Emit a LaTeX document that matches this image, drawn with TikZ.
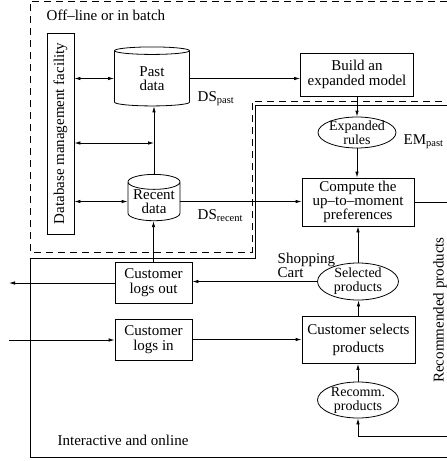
\documentclass[tikz,border=0pt]{standalone}
\usepackage{fontspec}
\setmainfont{Liberation Serif}
\usepackage{graphicx}
\usepackage{tikz}
\usetikzlibrary{shapes.geometric,arrows.meta}
\tikzstyle{block} = [rectangle, draw, align=center, inner sep=0pt]
\tikzstyle{ellip} = [ellipse, draw, align=center, inner sep=-4pt]
\tikzstyle{store} = [cylinder, shape border rotate=90, draw, align=center, inner sep=0pt]
\tikzstyle{arrow} = [draw, -{Latex[length=6pt,width=3.5pt]}]
\tikzstyle{twoway} = [draw, {Latex[length=6pt,width=3.5pt]}-{Latex[length=6pt,width=3.5pt]}]
\newcommand{\lsp}[1]{\fontsize{15}{#1}\selectfont}
\newcommand{\ssp}[1]{\fontsize{14}{#1}\selectfont}

\begin{document}
\begin{tikzpicture}[x=1pt, y=-1pt, font=\lsp{13}, line width=0.8pt]
\useasboundingbox (0,0) rectangle (447,461);
\clip (0,0) rectangle (447,461);

%% off-line or in batch
\draw[dash pattern=on 7pt off 5pt] (447,1) -- (30,1) -- (30,252) -- (252,252) -- (252,101) -- (447,101);
\node[anchor=west] at (43,15) (offline) {Off–line or in batch};

\node[block, minimum width=27pt, minimum height=201pt] at (60.5,133.5) (dbm) {\rotatebox{90}{Database management facility}};
\node[store, shape aspect=0.3, minimum width=75pt, minimum height=59pt, font=\lsp{14}] at (152,78.5) (past) {Past\\data};
\node[store, shape aspect=0.36, minimum width=52pt, minimum height=43pt, font=\lsp{13.5}] at (154,201.5) (recent) {Recent\\data};
\coordinate (junction) at (154,143);

\path[twoway] (dbm.east |- past.west) -- (past.west);
\path[twoway] (junction -| dbm.east) -- (junction);
\path[twoway] (dbm.east |- recent.west) -- (recent.west);
\path[arrow] (recent.north) -- (recent.north |- past.south);

\node[anchor=base west] at (194,101) (dspast) {DS\textsubscript{past}};
\node[anchor=base west] at (194,219) (dsrecent) {DS\textsubscript{recent}};

\node[block, minimum width=113pt, minimum height=43pt, font=\lsp{15}] at (357,74.5) (build) {Build an\\expanded model};
\path[arrow] (past.east) -- (past.east -| build.west);

%% interactive and online
\draw (447,105) -- (255,105) -- (255,258) -- (30,258) -- (30,457) -- (447,457);
\node at (123,440) (online) {Interactive and online};

\node[ellip, minimum width=78pt, minimum height=31pt, font=\ssp{14}] at (357,132.5) (rules) {Expanded\\rules};
\node[anchor=base west] at (400,144) (empast) {EM\textsubscript{past}};
\path[arrow] (build.south) -- (rules.north);

\node[block, minimum width=112pt, minimum height=48pt, font=\lsp{14}] at (358,202) (compute) {Compute the\\up–to–moment\\preferences};
\path[arrow] (rules.south) -- (rules.south |- compute.north);
\path[arrow] (recent.east) -- (recent.east -| compute.west);
\coordinate (redge) at (447,202);
\path[draw] (compute.east) -- (redge);

\node[ellip, minimum width=81pt, minimum height=37pt, font=\ssp{14}] at (358,281.5) (selected) {Selected\\products};
\path[arrow] (selected.north) -- (selected.north |- compute.south);
\node[anchor=north west, align=left, font=\lsp{12.5}] at (274,249) (cart) {Shopping\\Cart};

\node[block, minimum width=77pt, minimum height=41pt, font=\lsp{15}] at (153.5,283) (logsout) {Customer\\logs out};
\path[arrow] (selected.west) -- (selected.west -| logsout.east);
\path[arrow] (logsout.north) -- (logsout.north |- recent.south);
\coordinate (lout) at (9,283);
\path[arrow] (logsout.west) -- (lout);

\node[block, minimum width=77pt, minimum height=41pt, font=\lsp{14.3}] at (153.5,339.5) (logsin) {Customer\\logs in};
\coordinate (lin) at (9,340);
\path[arrow] (lin) -- (lin -| logsin.west);

\node[block, minimum width=113pt, minimum height=47pt, font=\lsp{17.7}] at (358.5,340) (selects) {Customer selects\\products};
\path[arrow] (logsin.east) -- (logsin.east -| selects.west);
\path[arrow] (selects.north) -- (selects.north |- selected.south);

\node[ellip, minimum width=81pt, minimum height=36pt, font=\ssp{14}] at (358,400) (recomm) {Recomm.\\products};
\path[arrow] (recomm.north) -- (recomm.north |- selects.south);
\coordinate (fb) at (447,436);
\path[arrow] (fb) -| (recomm.south);
\node[rotate=90] at (440,310) (recprod) {Recommended products};
\end{tikzpicture}
\end{document}
